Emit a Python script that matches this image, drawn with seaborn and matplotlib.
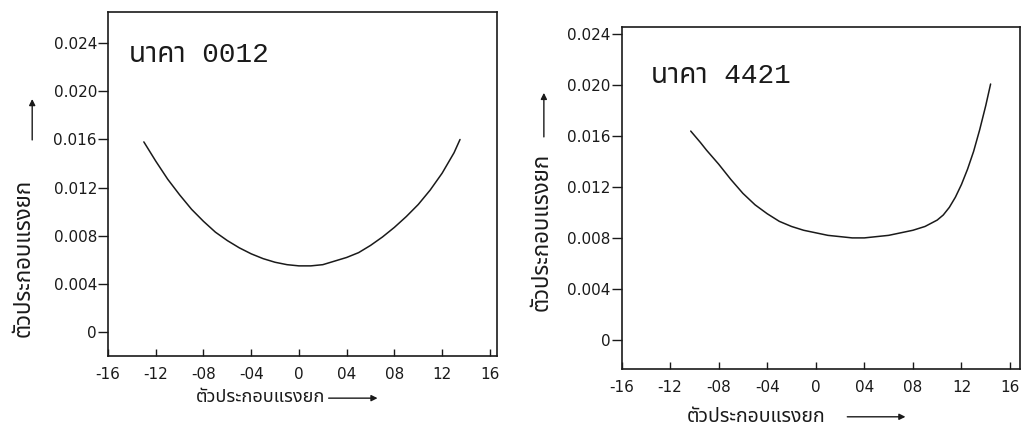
import matplotlib
matplotlib.use('Agg')
import matplotlib.pyplot as plt
import seaborn as sns

# lift coefficient (x) vs drag coefficient (y)
CL_0012 = [-1.30, -1.20, -1.10, -1.00, -0.90, -0.80, -0.70, -0.60, -0.50,
           -0.40, -0.30, -0.20, -0.10, 0.00, 0.10, 0.20, 0.30, 0.40, 0.50,
           0.60, 0.70, 0.80, 0.90, 1.00, 1.10, 1.20, 1.30, 1.35]
CD_0012 = [0.0158, 0.0142, 0.0127, 0.0114, 0.0102, 0.0092, 0.0083, 0.0076,
           0.0070, 0.0065, 0.0061, 0.0058, 0.0056, 0.0055, 0.0055, 0.0056,
           0.0059, 0.0062, 0.0066, 0.0072, 0.0079, 0.0087, 0.0096, 0.0106,
           0.0118, 0.0132, 0.0149, 0.0160]

CL_4421 = [-1.03, -0.95, -0.90, -0.80, -0.70, -0.60, -0.50, -0.40, -0.30,
           -0.20, -0.10, 0.00, 0.10, 0.20, 0.30, 0.40, 0.50, 0.60, 0.70,
           0.80, 0.90, 1.00, 1.05, 1.10, 1.15, 1.20, 1.25, 1.30, 1.35,
           1.40, 1.44]
CD_4421 = [0.0164, 0.0155, 0.0149, 0.0138, 0.0126, 0.0115, 0.0106, 0.0099,
           0.0093, 0.0089, 0.0086, 0.0084, 0.0082, 0.0081, 0.0080, 0.0080,
           0.0081, 0.0082, 0.0084, 0.0086, 0.0089, 0.0094, 0.0098, 0.0104,
           0.0112, 0.0122, 0.0134, 0.0148, 0.0165, 0.0184, 0.0201]

Y_TICKS = [0, 0.004, 0.008, 0.012, 0.016, 0.020, 0.024]
Y_TICK_LABELS = ['0', '0.004', '0.008', '0.012', '0.016', '0.020', '0.024']
X_TICKS = [-1.6, -1.2, -0.8, -0.4, 0, 0.4, 0.8, 1.2, 1.6]
X_TICK_LABELS = ['-16', '-12', '-08', '-04', '0', '04', '08', '12', '16']

TITLES = ['นาคา 0012', 'นาคา 4421']
AXIS_LABEL = 'ตัวประกอบแรงยก'

INK = '#1a1a1a'
THAI = ['Noto Sans Thai', 'DejaVu Sans']
MONO = ['Liberation Mono', 'Noto Sans Thai']

sns.set_style('ticks')
plt.rcParams['font.family'] = ['DejaVu Sans', 'Noto Sans Thai']

fig = plt.figure(figsize=(10.29, 4.25), dpi=100)

panels = [
    # rect, data, limits, and where labels/arrows sit (axes fraction)
    dict(rect=[0.105, 0.162, 0.378, 0.810], x=CL_0012, y=CD_0012,
         xlim=(-1.6, 1.66), ylim=(-0.0020, 0.0266), title=TITLES[0],
         title_xy=(0.055, 0.875),
         ylab_xy=(-0.215, 0.285), yarrow=(-0.195, 0.62, 0.755),
         xlab_xy=(0.393, -0.12), xarrow=(0.56, 0.70, -0.122),
         ylab_size=16, xlab_size=13),
    dict(rect=[0.604, 0.132, 0.387, 0.805], x=CL_4421, y=CD_4421,
         xlim=(-1.58, 1.68), ylim=(-0.0023, 0.0246), title=TITLES[1],
         title_xy=(0.075, 0.855),
         ylab_xy=(-0.20, 0.40), yarrow=(-0.195, 0.67, 0.815),
         xlab_xy=(0.337, -0.14), xarrow=(0.56, 0.72, -0.14),
         ylab_size=16, xlab_size=14),
]

for p in panels:
    ax = fig.add_axes(p['rect'])
    sns.lineplot(x=p['x'], y=p['y'], ax=ax, color=INK, linewidth=1.1,
                 estimator=None, sort=False)
    ax.set_xlim(*p['xlim'])
    ax.set_ylim(*p['ylim'])

    ax.set_yticks(Y_TICKS)
    ax.set_yticklabels(Y_TICK_LABELS)
    ax.set_xticks(X_TICKS)
    ax.set_xticklabels(X_TICK_LABELS)
    ax.tick_params(axis='y', direction='out', length=7, width=1.0,
                   labelsize=11, colors=INK, pad=1)
    ax.tick_params(axis='x', direction='in', length=5, width=1.0,
                   labelsize=11, colors=INK, pad=8)
    for side in ['left', 'right', 'top', 'bottom']:
        ax.spines[side].set_visible(True)
        ax.spines[side].set_linewidth(1.2)
        ax.spines[side].set_color(INK)

    ax.text(*p['title_xy'], p['title'], transform=ax.transAxes,
            fontsize=20, family=MONO, color=INK, va='center', ha='left')

    ax.text(*p['ylab_xy'], AXIS_LABEL, transform=ax.transAxes,
            rotation=90, fontsize=p['ylab_size'], family=THAI, color=INK,
            va='center', ha='center')
    xa, y0, y1 = p['yarrow']
    ax.annotate('', xy=(xa, y1), xytext=(xa, y0), xycoords='axes fraction',
                textcoords='axes fraction', annotation_clip=False,
                arrowprops=dict(arrowstyle='-|>', color=INK, lw=1.0,
                                mutation_scale=9))

    ax.text(*p['xlab_xy'], AXIS_LABEL, transform=ax.transAxes,
            fontsize=p['xlab_size'], family=THAI, color=INK,
            va='center', ha='center')
    x0, x1, ya = p['xarrow']
    ax.annotate('', xy=(x1, ya), xytext=(x0, ya), xycoords='axes fraction',
                textcoords='axes fraction', annotation_clip=False,
                arrowprops=dict(arrowstyle='-|>', color=INK, lw=1.0,
                                mutation_scale=9))

fig.savefig('out.png', dpi=100, facecolor='white')
